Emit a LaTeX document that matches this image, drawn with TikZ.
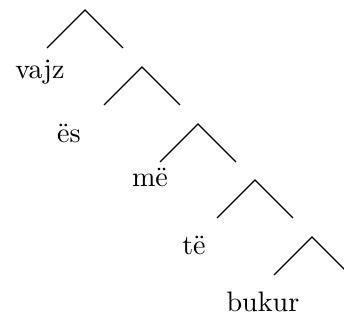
\documentclass[tikz,border=0pt]{standalone}
\begin{document}
\begin{tikzpicture}[x=0.0125cm,y=-0.0125cm]
\useasboundingbox (0,0) rectangle (344,320);
\coordinate (a1) at (85,10);
\coordinate (l1) at (47,48);
\coordinate (r1) at (123,48);
\coordinate (a2) at (142,67);
\coordinate (l2) at (104,105);
\coordinate (r2) at (180,105);
\coordinate (a3) at (198,124);
\coordinate (l3) at (160,162);
\coordinate (r3) at (236,162);
\coordinate (a4) at (255,180);
\coordinate (l4) at (217,218);
\coordinate (r4) at (293,218);
\coordinate (a5) at (312,237);
\coordinate (l5) at (274,275);
\coordinate (r5) at (350,275);

\node[anchor=base] (vajz) at (40,79) {vajz};
\node[anchor=base] (es) at (69,143) {ës};
\node[anchor=base] (me) at (150,187) {më};
\node[anchor=base] (te) at (194,255) {të};
\node[anchor=base] (bukur) at (263,312) {bukur};

\path[draw] (l1) -- (a1) -- (r1);
\path[draw] (l2) -- (a2) -- (r2);
\path[draw] (l3) -- (a3) -- (r3);
\path[draw] (l4) -- (a4) -- (r4);
\path[draw] (l5) -- (a5) -- (r5);
\end{tikzpicture}
\end{document}
